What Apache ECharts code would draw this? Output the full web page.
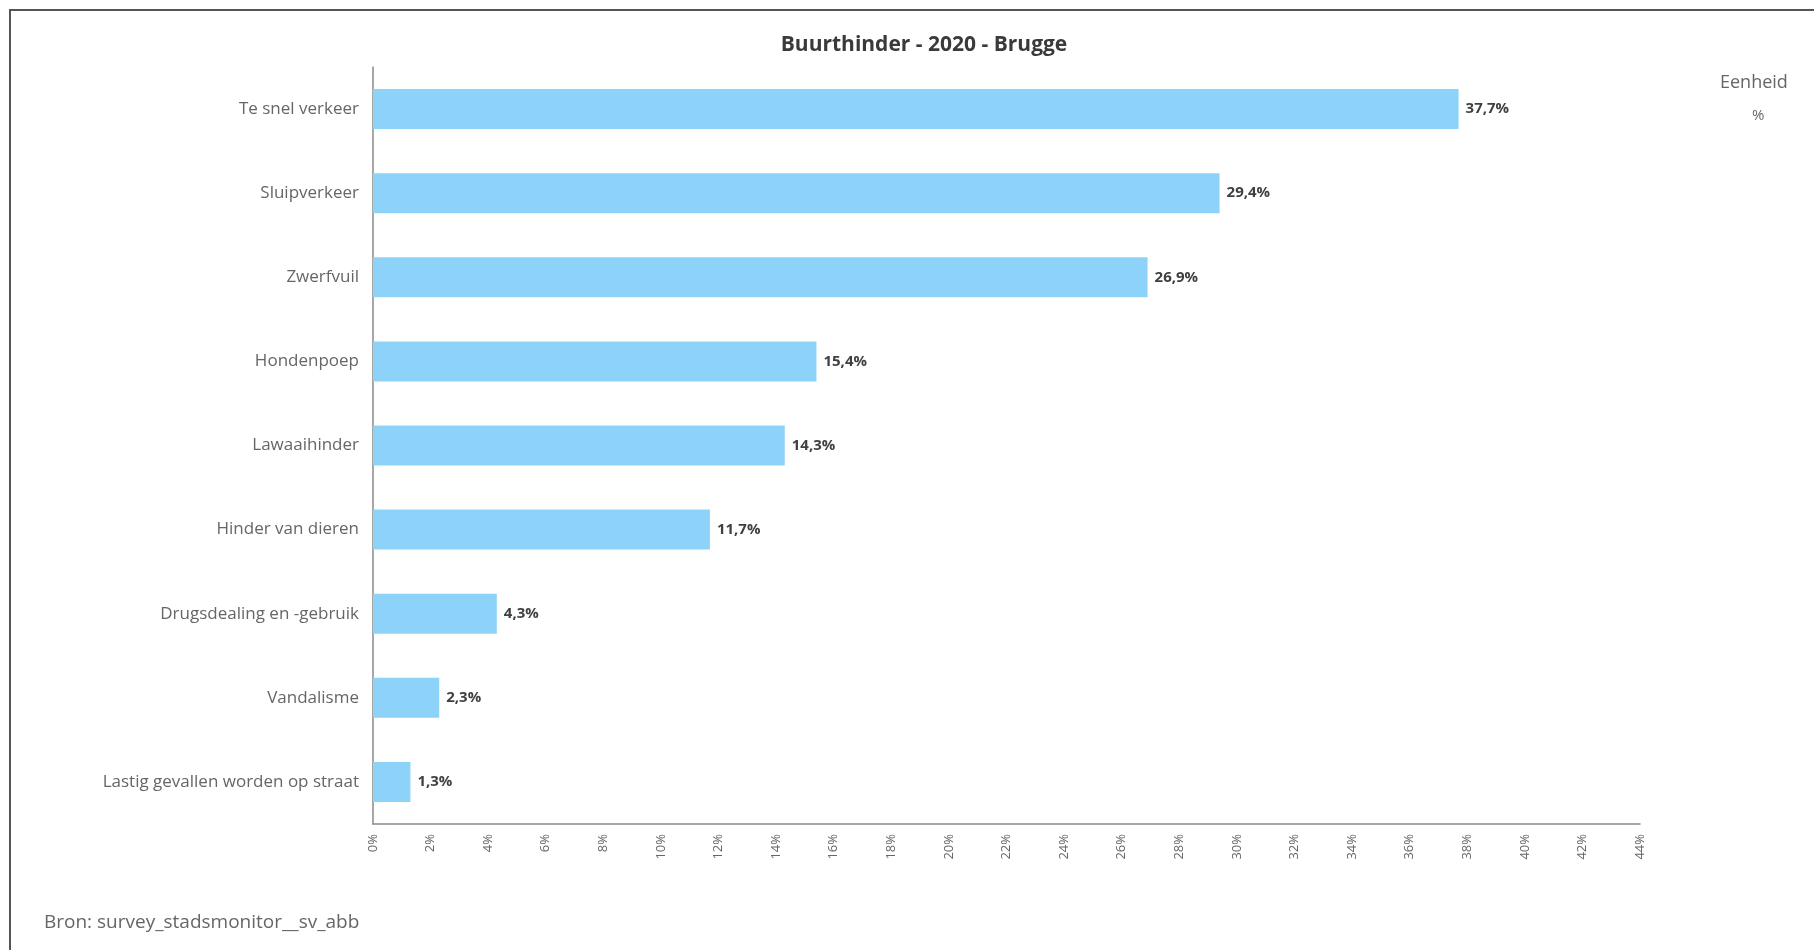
<!DOCTYPE html>
<html>
<head>
<meta charset="utf-8">
<title>Buurthinder - 2020 - Brugge</title>
<script src="https://cdn.jsdelivr.net/npm/echarts@6/dist/echarts.min.js"></script>
<style>
  html, body { margin: 0; padding: 0; background: #fff; }
  #chart { width: 1814px; height: 950px; }
</style>
</head>
<body>
<div id="chart"></div>
<script>
// categories top -> bottom
const categories = [
  'Te snel verkeer',
  'Sluipverkeer',
  'Zwerfvuil',
  'Hondenpoep',
  'Lawaaihinder',
  'Hinder van dieren',
  'Drugsdealing en -gebruik',
  'Vandalisme',
  'Lastig gevallen worden op straat'
];
const values = [37.7, 29.4, 26.9, 15.4, 14.3, 11.7, 4.3, 2.3, 1.3];
const xTicks = { min: 0, max: 44, interval: 2 };

const font = '"Open Sans", "Noto Sans", sans-serif';
const chart = echarts.init(document.getElementById('chart'));

const option = {
  backgroundColor: '#fff',
  animation: false,
  title: {
    text: 'Buurthinder - 2020 - Brugge',
    left: 919,
    top: 30,
    textAlign: 'center',
    textStyle: { fontFamily: font, fontSize: 21, fontWeight: 'bold', color: '#3a3a3a' }
  },
  graphic: [
    {
      type: 'rect',
      shape: { x: 10, y: 10, width: 1820, height: 960 },
      style: { fill: 'none', stroke: '#555', lineWidth: 2 },
      silent: true
    },
    {
      type: 'text', left: 1720, top: 74,
      style: { text: 'Eenheid', fontFamily: font, fontSize: 18, fill: '#666' }
    },
    {
      type: 'text', left: 1752, top: 108,
      style: { text: '%', fontFamily: font, fontSize: 15, fill: '#666' }
    },
    {
      type: 'text', left: 44, top: 913,
      style: { text: 'Bron: survey_stadsmonitor__sv_abb', fontFamily: font, fontSize: 19, fill: '#666' }
    }
  ],
  grid: { left: 373, right: 174, top: 67, bottom: 126, containLabel: false },
  xAxis: {
    type: 'value',
    min: xTicks.min,
    max: xTicks.max,
    interval: xTicks.interval,
    splitLine: { show: false },
    axisTick: { show: false },
    axisLine: { show: true, lineStyle: { color: '#8a8a8a', width: 1.5 } },
    axisLabel: {
      rotate: 90,
      margin: 10,
      fontFamily: font,
      fontSize: 13,
      color: '#666',
      formatter: v => v + '%'
    }
  },
  yAxis: {
    type: 'category',
    inverse: true,
    data: categories,
    axisTick: { show: false },
    axisLine: { show: true, lineStyle: { color: '#8a8a8a', width: 1.5 } },
    axisLabel: { margin: 14, fontFamily: font, fontSize: 17, color: '#666' }
  },
  series: [{
    type: 'bar',
    data: values,
    barWidth: 40,
    itemStyle: { color: '#8DD3F9' },
    label: {
      show: true,
      position: 'right',
      distance: 7,
      fontFamily: font,
      fontSize: 15,
      fontWeight: 'bold',
      color: '#404040',
      formatter: p => p.value.toFixed(1).replace('.', ',') + '%'
    }
  }]
};

chart.setOption(option);
</script>
</body>
</html>
